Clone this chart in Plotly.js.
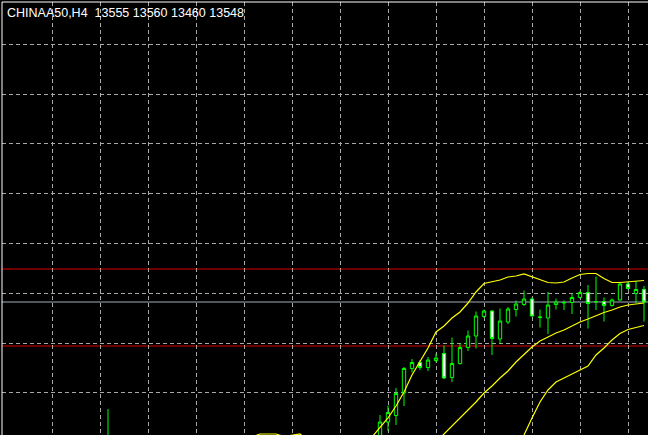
<!DOCTYPE html>
<html>
<head>
<meta charset="utf-8">
<script src="https://cdn.plot.ly/plotly-3.0.1.min.js"></script>
<style>
  html, body { margin: 0; padding: 0; background: #000; }
  #chart { width: 648px; height: 435px; }
</style>
</head>
<body>
<div id="chart"></div>
<script>
'use strict';

// bar index (H4 bars), OHLC
const barIdx = [13, 47, 48, 49, 50, 51, 52, 53, 54, 55, 56, 57, 58, 59, 60, 61, 62, 63, 64,
                65, 66, 67, 68, 69, 70, 71, 72, 73, 74, 75, 76, 77, 78, 79, 80];
const opens  = [13250, 13272, 13308, 13321, 13366, 13415, 13427, 13417, 13431, 13445, 13397, 13425, 13457, 13480, 13519, 13530, 13474, 13508, 13533,
                13543, 13554, 13517, 13516, 13543, 13546, 13547, 13557, 13567, 13548, 13549, 13541, 13552, 13584, 13565, 13573];
const highs  = [13334, 13322, 13341, 13376, 13418, 13434, 13432, 13438, 13445, 13461, 13477, 13466, 13491, 13529, 13533, 13532, 13535, 13538, 13551,
                13571, 13557, 13533, 13568, 13555, 13551, 13565, 13571, 13582, 13599, 13557, 13555, 13587, 13589, 13590, 13580];
const lows   = [13200, 13262, 13290, 13302, 13340, 13407, 13412, 13410, 13427, 13394, 13388, 13423, 13450, 13455, 13516, 13442, 13465, 13504, 13519,
                13540, 13519, 13497, 13484, 13533, 13532, 13524, 13555, 13495, 13532, 13509, 13539, 13551, 13573, 13546, 13509];
const closes = [13262, 13308, 13327, 13365, 13415, 13427, 13417, 13432, 13436, 13396, 13425, 13457, 13480, 13520, 13530, 13475, 13510, 13534, 13544,
                13554, 13520, 13518, 13542, 13548, 13547, 13557, 13567, 13545, 13549, 13541, 13552, 13584, 13575, 13573, 13548];

// Bollinger bands (null = band is off the visible window)
const upperX = [30, 31, 32, 33, 34, 35, 36, 37, 38, null, 46, 47, 48, 49, 50, 51, 52, 53, 54, 55, 56, 57, 58, 59, 60, 61, 62, 63,
                64, 65, 66, 67, 68, 69, 70, 71, 72, 73, 74, 75, 76, 77, 78, 79, 80];
const upperY = [13266, 13278, 13284, 13284, 13284, 13279, 13282, 13284, 13270, null, 13278, 13298, 13316, 13340, 13368, 13402, 13430, 13456, 13488, 13500, 13516, 13528, 13546, 13568, 13585, 13589, 13592, 13598,
                13600, 13604, 13598, 13592, 13587, 13586, 13588, 13596, 13603, 13605, 13605, 13595, 13587, 13587, 13588, 13589, 13591];
const midX = [54, 55, 56, 57, 58, 59, 60, 61, 62, 63, 64, 65, 66, 67, 68, 69, 70, 71, 72, 73, 74, 75, 76, 77, 78, 79, 80];
const midY = [13268, 13284, 13298, 13314, 13330, 13348, 13366, 13380, 13396, 13410, 13428, 13444, 13458, 13470, 13478, 13486, 13492,
              13500, 13508, 13514, 13521, 13527, 13532, 13538, 13542, 13544, 13546];
const lowerX = [64, 65, 66, 67, 68, 69, 70, 71, 72, 73, 74, 75, 76, 77, 78, 79, 80];
const lowerY = [13260, 13282, 13316, 13348, 13372, 13388, 13396, 13404, 13412, 13420, 13442, 13456, 13472, 13485, 13493, 13497, 13501];

// horizontal levels
const redLevels = [13614, 13460];
const bidPrice = 13548;

const titleText = 'CHINAA50,H4  13555 13560 13460 13548';

document.addEventListener('DOMContentLoaded', function(){

	const candles = {
		type: 'candlestick',
		x: barIdx,
		open: opens,
		high: highs,
		low: lows,
		close: closes,
		increasing: {line: {color: '#00ff00', width: 1}, fillcolor: '#000000'},
		decreasing: {line: {color: '#00ff00', width: 1}, fillcolor: '#ffffff'},
		whiskerwidth: 0,
		hoverinfo: 'skip',
		showlegend: false
	};

	function band(xs, ys) {
		return {
			type: 'scatter',
			mode: 'lines',
			x: xs,
			y: ys,
			line: {color: '#ffff00', width: 1.2},
			connectgaps: false,
			hoverinfo: 'skip',
			showlegend: false
		};
	}

	// grid every 6 bars (one day of H4)
	let xGrid = [];
	for(let i = 6; i <= 80; i += 6) xGrid.push(i);

	let shapes = [];
	redLevels.forEach(function(v){
		shapes.push({type: 'line', xref: 'paper', x0: 0, x1: 1, yref: 'y', y0: v, y1: v,
			line: {color: '#e00000', width: 1}, layer: 'below'});
	});
	shapes.push({type: 'line', xref: 'paper', x0: 0, x1: 1, yref: 'y', y0: bidPrice, y1: bidPrice,
		line: {color: '#a3acbd', width: 1}, layer: 'below'});
	// chart frame (left and top)
	shapes.push({type: 'line', xref: 'paper', yref: 'paper', x0: 0, x1: 0, y0: 0, y1: 1,
		line: {color: '#ffffff', width: 1}});
	shapes.push({type: 'line', xref: 'paper', yref: 'paper', x0: 0, x1: 1, y0: 1, y1: 1,
		line: {color: '#ffffff', width: 1}});

	const layout = {
		width: 648,
		height: 435,
		margin: {l: 2, r: 0, t: 2, b: 0, pad: 0},
		paper_bgcolor: '#000000',
		plot_bgcolor: '#000000',
		showlegend: false,
		hovermode: false,
		boxgap: 0.4,
		title: {
			text: titleText,
			font: {family: 'Liberation Sans, Arial, sans-serif', size: 12.5, color: '#ffffff'},
			x: 7 / 648,
			xanchor: 'left',
			xref: 'container',
			y: 1 - 13 / 435,
			yanchor: 'middle',
			yref: 'container'
		},
		xaxis: {
			range: [-0.25, 80.5],
			rangeslider: {visible: false},
			tickmode: 'array',
			tickvals: xGrid,
			showticklabels: false,
			ticks: '',
			showgrid: true,
			gridcolor: '#a8a8a8',
			gridwidth: 1,
			griddash: '4px,3px',
			zeroline: false,
			showline: false,
			fixedrange: true
		},
		yaxis: {
			range: [13282, 14148],
			tick0: 13565.4,
			dtick: 99.62,
			showticklabels: false,
			ticks: '',
			showgrid: true,
			gridcolor: '#a8a8a8',
			gridwidth: 1,
			griddash: '4px,3px',
			zeroline: false,
			showline: false,
			fixedrange: true
		},
		shapes: shapes
	};

	const config = {displayModeBar: false, staticPlot: true};
	Plotly.newPlot('chart', [candles, band(upperX, upperY), band(midX, midY), band(lowerX, lowerY)], layout, config);
});
</script>
</body>
</html>
